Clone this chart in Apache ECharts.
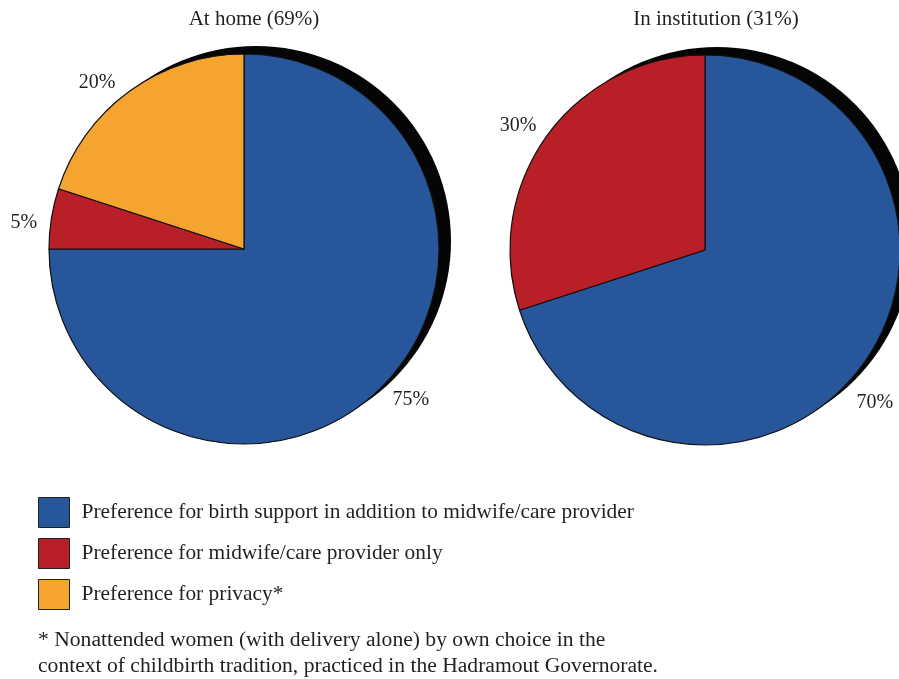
<!DOCTYPE html>
<html><head><meta charset="utf-8">
<script src="https://cdn.jsdelivr.net/npm/echarts@6/dist/echarts.min.js"></script>
<style>html,body{margin:0;padding:0;background:#fff}#c{width:899px;height:679px}</style>
</head><body><div id="c"></div>
<script>
const categories = [
  'Preference for birth support in addition to midwife/care provider',
  'Preference for midwife/care provider only',
  'Preference for privacy*'
];
const homeValues = [75, 5, 20];
const institutionValues = [70, 30];
const pieTitles = ['At home (69%)', 'In institution (31%)'];
const footnoteLines = [
  '* Nonattended women (with delivery alone) by own choice in the',
  'context of childbirth tradition, practiced in the Hadramout Governorate.'
];
const colors = ['#27569b', '#b81f27', '#f5a42f'];

// small label nudges (style only), per pie, per slice: [dx, dy]
const labelNudges = [
  [[7, -9], [3, 9], [-14, 17]],
  [[-13, 20], [-4, 9]]
];

const FONT = '"Liberation Serif", "Times New Roman", serif';
const TXT = '#231f20';

function items(values) {
  return values.map((v, i) => ({ name: categories[i], value: v, itemStyle: { color: colors[i] } }));
}

function pieGroup(values, center, shadowCenter, pieIndex) {
  const R = 195;
  return [
    {
      type: 'pie', center: shadowCenter, radius: R, silent: true, z: 1,
      data: [{ name: '', value: 1, itemStyle: { color: '#050505' } }],
      label: { show: false }, labelLine: { show: false }, emphasis: { disabled: true }
    },
    {
      type: 'pie', center: center, radius: R, startAngle: 90, clockwise: true, z: 3,
      data: items(values),
      itemStyle: { borderColor: '#111', borderWidth: 1.2 },
      label: { show: false }, labelLine: { show: false }, emphasis: { disabled: true }
    },
    {
      type: 'pie', center: center, radius: [R + 13, R + 43], startAngle: 90, clockwise: true, z: 4, silent: true,
      data: values.map((v, i) => ({ name: categories[i], value: v, itemStyle: { color: 'rgba(0,0,0,0)' } })),
      itemStyle: { borderWidth: 0 },
      label: { show: true, position: 'inside', formatter: '{c}%', color: TXT, fontSize: 20, fontFamily: FONT, rotate: 0 },
      labelLayout: function (p) {
        const n = labelNudges[pieIndex][p.dataIndex] || [0, 0];
        return { dx: n[0], dy: n[1] };
      },
      labelLine: { show: false }, emphasis: { disabled: true }
    }
  ];
}

const chart = echarts.init(document.getElementById('c'), null, { renderer: 'canvas' });
chart.setOption({
  animation: false,
  backgroundColor: '#fff',
  title: [
    { text: pieTitles[0], left: 254, top: 9, textAlign: 'center', padding: 0,
      textStyle: { fontFamily: FONT, fontSize: 21, fontWeight: 'normal', color: TXT } },
    { text: pieTitles[1], left: 716, top: 9, textAlign: 'center', padding: 0,
      textStyle: { fontFamily: FONT, fontSize: 21, fontWeight: 'normal', color: TXT } },
    { text: footnoteLines.join('\n'), left: 38, top: 627, padding: 0,
      textStyle: { fontFamily: FONT, fontSize: 21.6, lineHeight: 26, fontWeight: 'normal', color: TXT } }
  ],
  legend: {
    orient: 'vertical', left: 38, top: 497, padding: 0,
    itemWidth: 31, itemHeight: 30, itemGap: 10, icon: 'rect', selectedMode: false,
    data: categories,
    itemStyle: { borderColor: '#231f20', borderWidth: 1 },
    textStyle: { fontFamily: FONT, fontSize: 21.4, color: TXT, padding: [3, 0, 0, 7] }
  },
  series: [].concat(
    pieGroup(homeValues, [244, 249], [256, 241], 0),
    pieGroup(institutionValues, [705, 250], [717, 242], 1)
  )
});
</script></body></html>
